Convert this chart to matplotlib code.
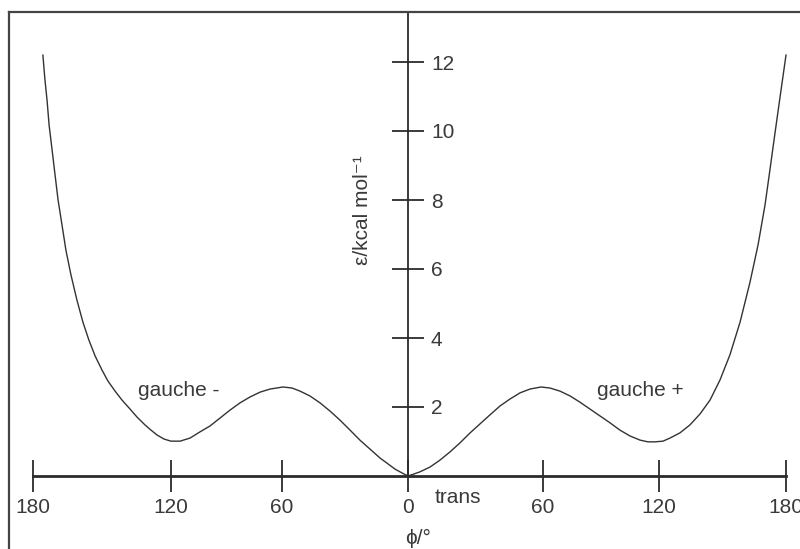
import numpy as np
import matplotlib
matplotlib.use("Agg")
import matplotlib.pyplot as plt
from matplotlib.lines import Line2D

# torsion angle (deg) and energy (kcal/mol)
phi = [-175.7, -174.8, -173.9, -173.0, -171.7, -170.4, -169.1, -167.4, -165.7,
       -163.5, -160.9, -158.3, -155.7, -153.0, -150.0, -147.4, -144.3, -141.3,
       -137.8, -134.8, -131.3, -128.7, -126.1, -123.0, -120.0, -115.1, -109.7,
       -104.3, -98.9, -93.5, -88.1, -82.7, -77.3, -71.9, -66.5, -59.5, -55.2,
       -51.4, -46.7, -41.9, -37.1, -32.4, -27.6, -22.9, -18.1, -13.3, -9.5,
       -6.2, -2.9, 0.0,
       2.7, 5.3, 9.8, 14.2, 18.7, 23.1, 27.6, 32.0, 36.4, 40.9, 45.3, 49.8,
       54.2, 59.1, 63.6, 68.8, 74.0, 79.1, 84.3, 89.5, 94.7, 99.8, 105.0,
       110.2, 114.3, 117.9, 121.9, 125.2, 129.9, 134.6, 139.4, 144.1, 148.8,
       153.5, 158.3, 163.0, 166.8, 170.1, 172.4, 174.8, 177.2, 180.0]
energy = [12.20, 11.48, 10.90, 10.17, 9.45, 8.72, 8.00, 7.28, 6.55,
          5.83, 5.10, 4.46, 3.94, 3.48, 3.07, 2.75, 2.46, 2.20,
          1.94, 1.71, 1.48, 1.33, 1.19, 1.07, 1.01, 1.01, 1.10,
          1.28, 1.45, 1.68, 1.91, 2.12, 2.29, 2.43, 2.52, 2.58, 2.55,
          2.46, 2.32, 2.12, 1.88, 1.62, 1.33, 1.04, 0.78, 0.52, 0.35,
          0.20, 0.09, 0.0,
          0.06, 0.12, 0.26, 0.46, 0.70, 0.96, 1.25, 1.51, 1.77, 2.03, 2.23, 2.41,
          2.52, 2.58, 2.55, 2.46, 2.32, 2.14, 1.94, 1.74, 1.54, 1.33, 1.16,
          1.04, 0.99, 0.99, 1.01, 1.10, 1.25, 1.48, 1.80, 2.20, 2.78,
          3.51, 4.46, 5.62, 6.70, 7.86, 8.87, 9.94, 10.99, 12.20]

x_ticks = [-180, -120, -60, 0, 60, 120, 180]
x_labels = ["180", "120", "60", "0", "60", "120", "180"]
y_ticks = [2, 4, 6, 8, 10, 12]

# the original axis is hand spaced, so map degrees piecewise onto its tick spacing
nodes_deg = np.array([-300, -180, -120, -60, 0, 60, 120, 180, 300])
nodes_pos = np.array([-243.0, 33, 171, 282, 408, 543, 659, 786, 1040])


def forward(v):
    return np.interp(v, nodes_deg, nodes_pos)


def inverse(v):
    return np.interp(v, nodes_pos, nodes_deg)


plt.rcParams['font.family'] = ['Liberation Sans', 'DejaVu Sans']
ink = "#2b2b2b"
txt = "#3a3a3a"

fig = plt.figure(figsize=(8, 5.49), dpi=100)
ax = fig.add_axes([0, 0, 1, 1])
ax.set_xscale('function', functions=(forward, inverse))
ax.set_xlim(inverse(0), inverse(800))
ax.set_ylim((476 - 549) / 34.5, 476 / 34.5)
ax.patch.set_alpha(0)

ax.plot(phi, energy, color="#333333", lw=1.0)

for s in ['top', 'left']:
    ax.spines[s].set_visible(False)
ax.spines['bottom'].set_position(('data', 0))
ax.spines['bottom'].set_bounds(-180, 180)
ax.spines['bottom'].set_linewidth(2.0)
ax.spines['bottom'].set_color(ink)
ax.spines['right'].set_position(('data', 0))
ax.spines['right'].set_bounds(0, (476 - 12) / 34.5)
ax.spines['right'].set_linewidth(1.3)
ax.spines['right'].set_color(ink)

ax.set_xticks(x_ticks)
ax.set_xticklabels(x_labels)
ax.xaxis.set_minor_locator(plt.NullLocator())
ax.yaxis.tick_right()
ax.set_yticks(y_ticks)
ax.tick_params(axis='x', direction='inout', length=23, width=1.3, color=ink,
               pad=4, labelsize=15, labelcolor=txt)
ax.tick_params(axis='y', direction='inout', length=23, width=1.3, color=ink,
               pad=5, labelsize=15, labelcolor=txt)

ax.text(418 / 800, (549 - 538) / 549, "ϕ/°", transform=ax.transAxes,
        ha='center', va='center', fontsize=15, color=txt)
ax.text(362 / 800, (549 - 210) / 549, "ε/kcal mol⁻¹", transform=ax.transAxes,
        ha='center', va='center', rotation=90, fontsize=15, color=txt)

ax.text(12, -0.61, "trans", ha='left', va='center', fontsize=15, color=txt)
ax.text(-134.3, 2.49, "gauche -", ha='left', va='center', fontsize=15, color=txt)
ax.text(87.9, 2.49, "gauche +", ha='left', va='center', fontsize=15, color=txt)

# picture frame (left and top edges visible)
fy = (549 - 12) / 549
fx = 9 / 800
fig.add_artist(Line2D([fx, fx], [0, fy], color="#444444", lw=1.6))
fig.add_artist(Line2D([fx, 1], [fy, fy], color="#444444", lw=1.6))

fig.savefig("out.png", dpi=100)
